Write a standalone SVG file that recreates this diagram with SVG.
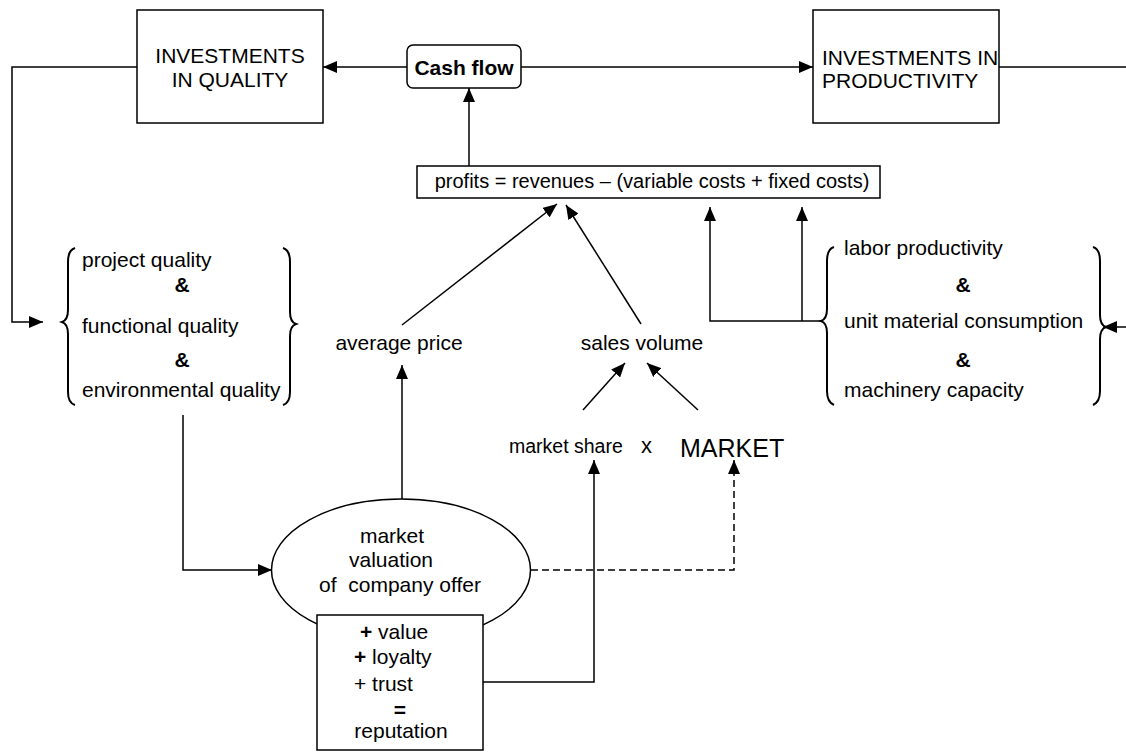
<svg xmlns="http://www.w3.org/2000/svg" width="1126" height="752" viewBox="0 0 1126 752">
<style>
text{font-family:"Liberation Sans",Arial,sans-serif;font-size:21px;fill:#000}
.b{font-weight:bold}
.box{fill:#fff;stroke:#000;stroke-width:1.5}
.ln{fill:none;stroke:#000;stroke-width:1.5}
.br{fill:none;stroke:#000;stroke-width:2}
.dash{stroke-dasharray:7 4}
</style>
<defs>
<marker id="ah" viewBox="0 0 14 12" refX="14" refY="6" markerWidth="14" markerHeight="12" orient="auto" markerUnits="userSpaceOnUse">
<path d="M0,0 L14,6 L0,12 z" fill="#000"/>
</marker>
</defs>
<rect width="1126" height="752" fill="#fff"/>
<g id="connectors">
<path class="ln" d="M407,67 L323,67" marker-end="url(#ah)"/>
<path class="ln" d="M521,67 L813,67" marker-end="url(#ah)"/>
<path class="ln" d="M999,67 L1126,67"/>
<path class="ln" d="M137,67 L12,67 L12,322 L43,322" marker-end="url(#ah)"/>
<path class="ln" d="M469,166 L469,88" marker-end="url(#ah)"/>
<path class="ln" d="M402,325 L557,204" marker-end="url(#ah)"/>
<path class="ln" d="M641,324 L566,205" marker-end="url(#ah)"/>
<path class="ln" d="M402,499 L402,365" marker-end="url(#ah)"/>
<path class="ln" d="M583,410 L625,363" marker-end="url(#ah)"/>
<path class="ln" d="M698,410 L647,363" marker-end="url(#ah)"/>
<path class="ln" d="M823,321 L710,321 L710,207" marker-end="url(#ah)"/>
<path class="ln" d="M802,321 L802,207" marker-end="url(#ah)"/>
<path class="ln" d="M1126,327 L1103,327" marker-end="url(#ah)"/>
<path class="ln" d="M183,415 L183,570 L272,570" marker-end="url(#ah)"/>
<path class="ln" d="M483,682 L594,682 L594,460" marker-end="url(#ah)"/>
<path class="ln dash" d="M531,570 L734,570 L734,460" marker-end="url(#ah)"/>
</g>
<g id="inv-quality">
<rect class="box" x="137" y="10" width="186" height="113"/>
<text x="230" y="63" text-anchor="middle">INVESTMENTS</text>
<text x="230" y="87" text-anchor="middle">IN QUALITY</text>
</g>
<g id="cash-flow">
<rect class="box" x="407" y="45" width="114" height="43" rx="6"/>
<text class="b" x="464" y="75" text-anchor="middle">Cash flow</text>
</g>
<g id="inv-productivity">
<rect class="box" x="813" y="10" width="186" height="113"/>
<text x="822" y="65">INVESTMENTS IN</text>
<text x="822" y="88">PRODUCTIVITY</text>
</g>
<g id="profits">
<rect class="box" x="417" y="166" width="463" height="32"/>
<text x="652" y="188" text-anchor="middle" style="font-size:20px">profits = revenues – (variable costs + fixed costs)</text>
</g>
<g id="quality">
<path class="br" d="M75,248 Q68,250 68,262 L68,310 Q68,320 62,322 Q68,324 68,334 L68,392 Q68,403 75,405"/>
<path class="br" d="M283,248 Q290,250 290,262 L290,312 Q290,322 296,324 Q290,326 290,336 L290,392 Q290,403 283,405"/>
<text x="82" y="267">project quality</text>
<text class="b" x="182" y="292" text-anchor="middle">&amp;</text>
<text x="82" y="333">functional quality</text>
<text class="b" x="182" y="367" text-anchor="middle">&amp;</text>
<text x="82" y="397">environmental quality</text>
</g>
<g id="productivity">
<path class="br" d="M834,247 Q827,249 827,261 L827,309 Q827,319 821,321 Q827,323 827,333 L827,391 Q827,402 834,405"/>
<path class="br" d="M1093,247 Q1100,249 1100,261 L1100,315 Q1100,325 1106,327 Q1100,329 1100,339 L1100,391 Q1100,402 1093,405"/>
<text x="844" y="255">labor productivity</text>
<text class="b" x="963" y="292" text-anchor="middle">&amp;</text>
<text x="844" y="328">unit material consumption</text>
<text class="b" x="963" y="367" text-anchor="middle">&amp;</text>
<text x="844" y="397">machinery capacity</text>
</g>
<g id="average-price">
<text x="399" y="350" text-anchor="middle">average price</text>
</g>
<g id="sales-volume">
<text x="642" y="350" text-anchor="middle">sales volume</text>
</g>
<g id="market-share">
<text x="509" y="453" style="font-size:19.5px">market share</text>
<text x="641" y="453" style="font-size:22px">x</text>
</g>
<g id="market">
<text x="680" y="457" style="font-size:25px">MARKET</text>
</g>
<g id="valuation">
<ellipse class="box" cx="401" cy="570" rx="129.5" ry="71"/>
<text x="392" y="543" text-anchor="middle">market</text>
<text x="391" y="567" text-anchor="middle">valuation</text>
<text x="400" y="592" text-anchor="middle">of&#160; company offer</text>
</g>
<g id="reputation">
<rect class="box" x="317" y="615" width="166" height="135"/>
<text x="360" y="639"><tspan class="b">+</tspan> value</text>
<text x="354" y="664"><tspan class="b">+</tspan> loyalty</text>
<text x="354" y="691">+ trust</text>
<text class="b" x="400" y="717" text-anchor="middle">=</text>
<text x="401" y="738" text-anchor="middle">reputation</text>
</g>
</svg>
